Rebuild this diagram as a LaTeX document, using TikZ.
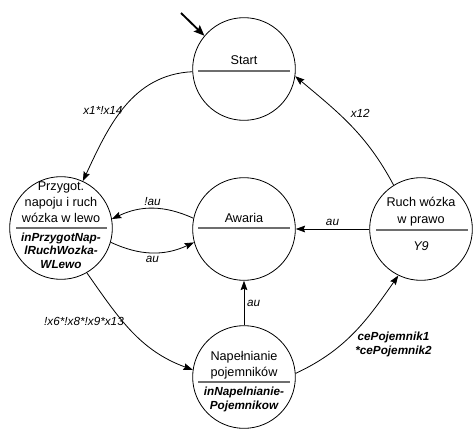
\documentclass[tikz,border=0pt]{standalone}
\usepackage{fontspec}
\setmainfont{Liberation Sans}
\usepackage{tikz}
\usetikzlibrary{arrows.meta, positioning}
\usepackage{xcolor}
\definecolor{StateBlack}{HTML}{000000}
\definecolor{DividerGray}{HTML}{6E6E6E}
\tikzset{
    state/.style={
        draw=StateBlack,
        circle,
        line width=0.6pt,
        minimum size=77pt,
        inner sep=0pt
    },
    statename/.style={
        font=\fontsize{9.5}{12}\selectfont,
        align=center,
        inner sep=0pt
    },
    stateout/.style={
        font=\fontsize{8.8}{10.2}\selectfont\bfseries\itshape,
        align=center,
        inner sep=0pt
    },
    divider/.style={
        draw=DividerGray,
        line width=1.1pt
    },
    arrow/.style={
        ->,
        >={Stealth[length=7pt,width=5pt,inset=1pt]},
        line width=0.6pt,
        StateBlack
    },
    initarrow/.style={
        ->,
        >={Stealth[length=8pt,width=6.5pt,inset=1.5pt]},
        line width=1.4pt,
        StateBlack
    },
    guard/.style={
        font=\fontsize{8.8}{10.5}\selectfont\itshape,
        align=center,
        inner sep=2pt
    },
    boldguard/.style={
        guard,
        font=\fontsize{8.8}{10.5}\selectfont\bfseries\itshape
    }
}

\begin{document}
\begin{tikzpicture}[x=0.75pt, y=0.75pt]
        \useasboundingbox (0,0) rectangle (473,429);

        % states
        \node[state] (start) at (244,360) {};
        \node[state] (przygot) at (61,201) {};
        \node[state] (awaria) at (244,200) {};
        \node[state] (ruch) at (421,200) {};
        \node[state] (napel) at (244,52) {};

        % contents of the states
        \node[statename] (startname) at (244,369) {Start};
        \draw[divider] (198,358) -- (290,358);

        \node[statename] (przygotname) at (61,227) {Przygot.\\napoju i ruch\\wózka w lewo};
        \draw[divider] (16,201) -- (107,201);
        \node[stateout, font=\fontsize{8.8}{10.1}\selectfont\bfseries\itshape] (przygotout) at (61,178.5) {inPrzygotNap-\\lRuchWozka-\\WLewo};

        \node[statename] (awarianame) at (244,211) {Awaria};
        \draw[divider] (198,201) -- (290,201);

        \node[statename, font=\fontsize{9.5}{12.7}\selectfont] (ruchname) at (421,217.5) {Ruch wózka\\w prawo};
        \draw[divider] (376,199) -- (468,199);
        \node[statename, font=\fontsize{9.5}{12}\selectfont\itshape] (ruchout) at (421,183) {Y9};

        \node[statename] (napelname) at (244,64) {Napełnianie\\pojemników};
        \draw[divider] (198,47) -- (290,47);
        \node[stateout, font=\fontsize{8.8}{10.5}\selectfont\bfseries\itshape] (napelout) at (244,30) {inNapelnianie-\\Pojemnikow};

        % transitions
        \coordinate (entry) at (181,416);
        \draw[initarrow] (entry) -- (start.140);

        \draw[arrow] (start.183) to[out=183, in=65] node[guard, pos=0.53, anchor=east, xshift=3pt] {x1*!x14} (przygot.65);
        \draw[arrow] (ruch.122) to[out=118, in=-40] node[guard, pos=0.6, anchor=west, xshift=5pt, yshift=2pt] {x12} (start.-8);
        \draw[arrow] (awaria.168) to[bend right=25] node[guard, anchor=south] {!au} (przygot.10);
        \draw[arrow] (przygot.-16) to[bend right=25] node[guard, anchor=north] {au} (awaria.195);
        \draw[arrow] (ruch) -- node[guard, anchor=south] {au} (awaria);
        \draw[arrow] (napel) -- node[guard, anchor=west] {au} (awaria);
        \draw[arrow] (przygot.-60) to[out=-55, in=160] node[guard, pos=0.4, anchor=east, xshift=3pt] {!x6*!x8*!x9*x13} (napel.172);
        \draw[arrow] (napel.4) to[out=25, in=235] node[boldguard, pos=0.4, anchor=west, xshift=6pt, yshift=-2pt] {cePojemnik1\\*cePojemnik2} (ruch.244);
    \end{tikzpicture}
\end{document}
